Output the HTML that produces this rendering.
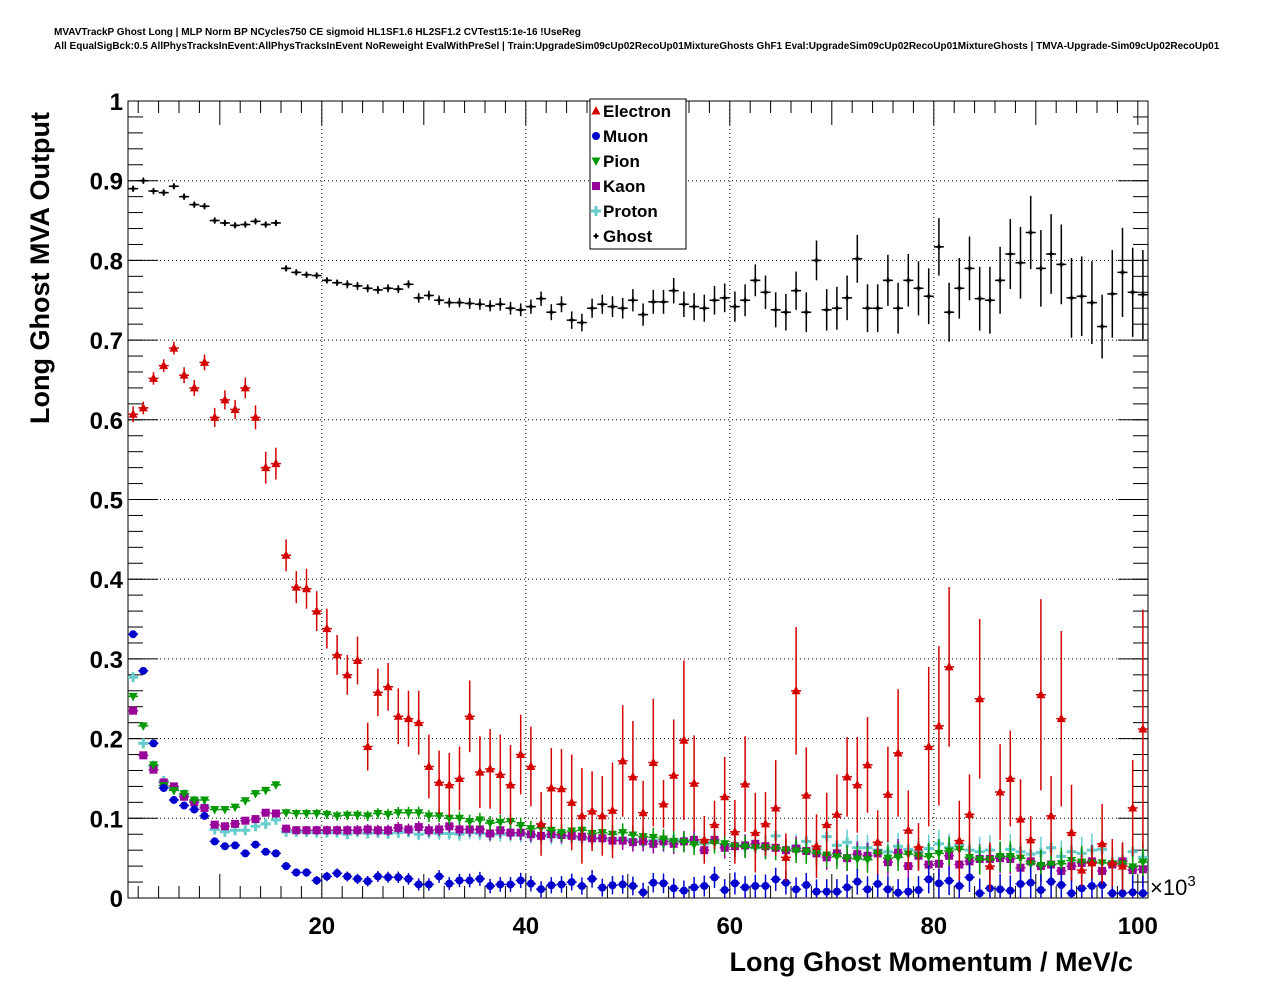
<!DOCTYPE html>
<html><head><meta charset="utf-8"><style>
body{margin:0;background:#fff;}
svg{display:block;font-family:"Liberation Sans",sans-serif;}
</style></head><body>
<svg id="c" width="1276" height="996" xmlns="http://www.w3.org/2000/svg">
<text x="54" y="35" font-size="10" font-weight="bold">MVAVTrackP Ghost Long | MLP Norm BP NCycles750 CE sigmoid HL1SF1.6 HL2SF1.2 CVTest15:1e-16 !UseReg</text>
<text x="54" y="49" font-size="10" font-weight="bold">All EqualSigBck:0.5 AllPhysTracksInEvent:AllPhysTracksInEvent NoReweight EvalWithPreSel | Train:UpgradeSim09cUp02RecoUp01MixtureGhosts GhF1 Eval:UpgradeSim09cUp02RecoUp01MixtureGhosts | TMVA-Upgrade-Sim09cUp02RecoUp01</text>
<text transform="translate(49,268) rotate(-90)" text-anchor="middle" font-size="27" font-weight="bold">Long Ghost MVA Output</text>
<text x="1133" y="971" text-anchor="end" font-size="27" font-weight="bold">Long Ghost Momentum / MeV/c</text>
<text x="1150" y="895" font-size="22">×10<tspan dy="-9" font-size="15">3</tspan></text>
<g id="grid"></g><g id="axes"></g><g id="marks"></g>
<g>
<rect x="590" y="99" width="96" height="150" fill="#fff" stroke="#000" stroke-width="1"/>
<g id="leg"></g>
</g>
</svg>
<script>
const xTicks=[20,40,60,80,100];
const yTicks=[0,0.1,0.2,0.3,0.4,0.5,0.6,0.7,0.8,0.9,1];
const yTickLabels=["0","0.1","0.2","0.3","0.4","0.5","0.6","0.7","0.8","0.9","1"];
const binCenters=Array.from({length:100},(_,i)=>1.5+i);
const electron=[.607,.615,.652,.668,.69,.656,.64,.672,.603,.625,.613,.64,.603,.54,.545,.43,.39,.388,.36,.338,.305,.28,.298,.19,.258,.265,.228,.225,.22,.165,.145,.142,.15,.228,.158,.162,.155,.142,.18,.165,.093,.138,.137,.12,.103,.109,.103,.11,.172,.152,.107,.17,.118,.154,.198,.144,.073,.092,.127,.083,.143,.082,.093,.113,.051,.26,.129,.065,.092,.105,.152,.142,.167,.07,.13,.182,.085,.064,.19,.216,.29,.072,.105,.25,.04,.133,.15,.099,.073,.255,.103,.225,.082,.035,.044,.068,.044,.04,.113,.212];
const electronErr=[.01,.008,.008,.008,.008,.01,.01,.01,.012,.012,.012,.013,.015,.02,.02,.02,.02,.025,.025,.025,.025,.025,.03,.03,.03,.03,.035,.035,.04,.04,.04,.04,.04,.045,.045,.05,.05,.05,.05,.05,.04,.05,.05,.06,.06,.05,.05,.06,.07,.07,.04,.08,.03,.07,.1,.06,.03,.03,.05,.04,.06,.05,.04,.06,.03,.08,.06,.04,.04,.05,.05,.06,.06,.04,.06,.08,.05,.03,.1,.1,.1,.05,.05,.1,.03,.06,.06,.05,.03,.12,.05,.11,.06,.02,.02,.05,.03,.03,.06,.15];
const muon=[.331,.285,.194,.138,.123,.116,.111,.103,.071,.065,.066,.056,.067,.058,.056,.040,.032,.032,.022,.027,.031,.027,.024,.021,.027,.026,.026,.024,.017,.017,.027,.018,.022,.022,.024,.015,.017,.017,.022,.018,.011,.016,.017,.020,.015,.024,.013,.016,.017,.0151,.0071,.0192,.0184,.0121,.0092,.0134,.0151,.0259,.0100,.0184,.0134,.0151,.0151,.0234,.0192,.0109,.0163,.0080,.0080,.0080,.0134,.0205,.0109,.0176,.0109,.0067,.0080,.0100,.0234,.0184,.0217,.0151,.0259,.0059,.0121,.0109,.0092,.0176,.0192,.0100,.0205,.0163,.0059,.0121,.0151,.0163,.0059,.0059,.0071,.0059];
const pion=[.253,.216,.167,.141,.135,.131,.123,.123,.111,.111,.114,.122,.131,.135,.142,.107,.106,.106,.106,.105,.103,.104,.104,.103,.106,.105,.107,.107,.107,.103,.103,.100,.100,.096,.098,.094,.095,.096,.091,.087,.088,.085,.082,.084,.085,.081,.082,.080,.082,.079,.077,.076,.074,.071,.070,.067,.070,.069,.068,.065,.064,.063,.063,.062,.060,.059,.058,.056,.054,.052,.050,.049,.048,.056,.050,.051,.055,.053,.052,.056,.059,.061,.051,.048,.048,.052,.052,.050,.043,.041,.042,.043,.047,.045,.044,.044,.043,.043,.039,.045];
const kaon=[.235,.179,.161,.145,.140,.127,.120,.113,.092,.090,.093,.097,.099,.107,.106,.087,.085,.085,.085,.085,.085,.085,.085,.086,.085,.085,.088,.086,.089,.085,.086,.090,.086,.086,.086,.081,.085,.082,.082,.080,.078,.080,.079,.078,.077,.075,.075,.072,.072,.070,.071,.068,.071,.068,.071,.073,.060,.073,.063,.065,.066,.068,.065,.063,.060,.062,.059,.056,.051,.056,.050,.055,.053,.056,.045,.057,.040,.053,.042,.043,.053,.042,.046,.049,.049,.050,.049,.038,.046,.040,.042,.034,.040,.044,.046,.034,.042,.046,.035,.036];
const proton=[.277,.194,.166,.147,.137,.130,.122,.115,.086,.083,.085,.085,.090,.093,.098,.083,.083,.083,.082,.082,.082,.080,.083,.081,.082,.081,.082,.083,.080,.082,.081,.081,.080,.082,.081,.079,.080,.080,.079,.078,.078,.077,.077,.076,.075,.074,.075,.074,.073,.073,.070,.072,.070,.073,.072,.071,.068,.072,.066,.066,.065,.063,.064,.078,.060,.065,.071,.062,.077,.066,.070,.063,.063,.060,.058,.065,.061,.058,.062,.068,.063,.066,.060,.058,.060,.052,.061,.058,.055,.057,.063,.052,.058,.056,.060,.061,.045,.048,.058,.051];
const ghost=[.89,.9,.887,.885,.893,.88,.87,.868,.85,.847,.844,.845,.849,.845,.847,.79,.785,.782,.781,.775,.772,.77,.768,.765,.763,.765,.764,.77,.753,.756,.75,.747,.747,.746,.745,.743,.745,.74,.738,.742,.752,.735,.745,.725,.722,.74,.745,.742,.74,.75,.732,.748,.748,.762,.745,.742,.74,.75,.753,.742,.75,.775,.76,.738,.735,.762,.735,.8,.738,.74,.753,.802,.74,.74,.775,.74,.775,.765,.755,.817,.735,.765,.79,.752,.75,.775,.808,.797,.835,.79,.808,.795,.753,.755,.747,.717,.758,.785,.76,.757];
const ghostErr=[.004,.004,.004,.004,.004,.004,.004,.004,.004,.004,.004,.004,.004,.004,.004,.004,.004,.004,.004,.004,.004,.005,.005,.005,.005,.005,.005,.005,.006,.006,.006,.006,.006,.007,.007,.007,.008,.008,.008,.009,.009,.01,.01,.011,.011,.012,.012,.013,.013,.014,.014,.015,.015,.016,.016,.017,.017,.018,.018,.019,.02,.02,.021,.022,.023,.024,.025,.025,.026,.027,.028,.03,.03,.03,.032,.032,.033,.034,.035,.036,.037,.038,.04,.04,.042,.042,.044,.045,.046,.048,.05,.05,.05,.05,.052,.04,.055,.056,.056,.056];
const NS="http://www.w3.org/2000/svg";
const L=128,R=1148,T=101,B=898,XMIN=1,XMAX=101;
const xs=v=>L+(v-XMIN)/(XMAX-XMIN)*(R-L);
const ys=v=>B-v*(B-T);
function mk(tag,attrs,parent){const e=document.createElementNS(NS,tag);for(const k in attrs)e.setAttribute(k,attrs[k]);parent.appendChild(e);return e;}
const grid=document.getElementById('grid'),axes=document.getElementById('axes'),marks=document.getElementById('marks');
yTicks.forEach((t,i)=>{
 if(t>0&&t<1){const g=mk('line',{x1:L,x2:R,y1:ys(t),y2:ys(t),stroke:'#000','stroke-width':1,'stroke-dasharray':'1,3'},grid);
 
 }
 const lb=mk('text',{x:L-5,y:ys(t)+9,'text-anchor':'end','font-size':24,'font-weight':'bold'},axes);lb.textContent=yTickLabels[i];
 
 
 mk('line',{x1:L,x2:L+30,y1:ys(t),y2:ys(t),stroke:'#000'},axes);
 mk('line',{x1:R,x2:R-30,y1:ys(t),y2:ys(t),stroke:'#000'},axes);
});
for(let v=0.02;v<1;v+=0.02){mk('line',{x1:L,x2:L+15,y1:ys(v),y2:ys(v),stroke:'#000'},axes);mk('line',{x1:R,x2:R-15,y1:ys(v),y2:ys(v),stroke:'#000'},axes);}
xTicks.forEach(t=>{
 if(t<100){const g=mk('line',{x1:xs(t),x2:xs(t),y1:T,y2:B,stroke:'#000','stroke-width':1,'stroke-dasharray':'1,3'},grid);
 
 }
 const lb=mk('text',{x:xs(t),y:934,'text-anchor':'middle','font-size':24,'font-weight':'bold'},axes);lb.textContent=t;
 
 
});
for(let v=2;v<=100;v+=2){const big=v%10===0;mk('line',{x1:xs(v),x2:xs(v),y1:B,y2:B-(big?24:12),stroke:'#000'},axes);mk('line',{x1:xs(v),x2:xs(v),y1:T,y2:T+(big?24:12),stroke:'#000'},axes);}
mk('rect',{x:L,y:T,width:R-L,height:B-T,fill:'none',stroke:'#000','stroke-width':1},axes);
function marker(kind,x,y,c,parent){
 if(kind==='tri')return mk('polygon',{points:`${x},${y-5} ${x-4.5},${y+3.5} ${x+4.5},${y+3.5}`,fill:c},parent);
 if(kind==='tridn')return mk('polygon',{points:`${x},${y+5} ${x-4.5},${y-3.5} ${x+4.5},${y-3.5}`,fill:c},parent);
 if(kind==='circ')return mk('circle',{cx:x,cy:y,r:4,fill:c},parent);
 if(kind==='sq')return mk('rect',{x:x-4,y:y-4,width:8,height:8,fill:c},parent);
 if(kind==='cross')return mk('path',{d:`M${x-5} ${y-1.5}h3.5v-3.5h3v3.5h3.5v3h-3.5v3.5h-3v-3.5h-3.5z`,fill:c},parent);
 return mk('path',{d:`M${x-2.5} ${y}h5M${x} ${y-2.5}v5`,stroke:c,'stroke-width':2},parent);
}
const series=[
 {name:'Electron',vals:electron,err:electronErr,c:'#d40000',k:'tri'},
 {name:'Muon',vals:muon,err:null,c:'#0000cc',k:'circ'},
 {name:'Pion',vals:pion,err:null,c:'#009900',k:'tridn'},
 {name:'Kaon',vals:kaon,err:null,c:'#990099',k:'sq'},
 {name:'Proton',vals:proton,err:null,c:'#66cccc',k:'cross'},
 {name:'Ghost',vals:ghost,err:ghostErr,c:'#000',k:'star'}];
[5,4,3,2,1,0].forEach(si=>{
 const s=series[si];
 const g=mk('g',{},marks);
 
 
 s.vals.forEach((v,i)=>{
  if(v==null)return;
  const x=xs(binCenters[i]),y=ys(v);
  const e=s.err?s.err[i]:(0.002+0.0002*i);
  mk('line',{x1:x-5,x2:x+5,y1:y,y2:y,stroke:s.c,'stroke-width':1.5},g);
  mk('line',{x1:x,x2:x,y1:ys(v+e),y2:ys(Math.max(0,v-e)),stroke:s.c,'stroke-width':1.5},g);
  const m=marker(s.k,x,y,s.c,g);
  
  
 });
});
const leg=document.getElementById('leg');
series.forEach((s,i)=>{
 const y=111+25*i;
 const g=mk('g',{},leg);
 
 
 marker(s.k==='star'?'star':s.k,596,y,s.c,g);
 const t=mk('text',{x:603,y:y+6,'font-size':17,'font-weight':'bold'},g);t.textContent=s.name;
});
</script>
</body></html>
